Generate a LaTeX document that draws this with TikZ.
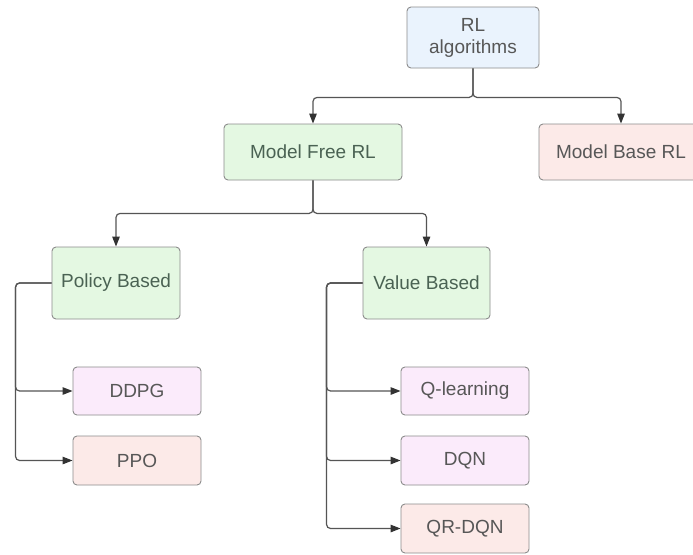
\documentclass[tikz,border=0pt]{standalone}
\usepackage{fontspec}
\setmainfont{Liberation Sans}
\usetikzlibrary{arrows.meta}
\definecolor{edgegray}{HTML}{555555}
\definecolor{tipgray}{HTML}{333333}
\definecolor{boxline}{HTML}{8C8C8C}
\definecolor{fillblue}{HTML}{EAF3FD}
\definecolor{fillgreen}{HTML}{E4F8E2}
\definecolor{fillpink}{HTML}{FCEAE8}
\definecolor{fillpurple}{HTML}{FBEBFB}
\definecolor{txtgreen}{HTML}{4A6253}
\definecolor{txtgray}{HTML}{575757}
\tikzset{
  box/.style={draw=boxline, line width=0.9pt, rounded corners=4pt, align=center,
    inner sep=0pt, font=\fontsize{19}{22}\selectfont, text=txtgray},
  greenbox/.style={box, fill=fillgreen, text=txtgreen},
  bluebox/.style={box, fill=fillblue},
  pinkbox/.style={box, fill=fillpink},
  purplebox/.style={box, fill=fillpurple},
  conn/.style={draw=edgegray, line width=1.2pt, rounded corners=4pt,
    -{Triangle[length=10pt,width=7.5pt,color=tipgray]}},
}
\begin{document}
\begin{tikzpicture}[x=1pt,y=-1pt]
\useasboundingbox (0,0) rectangle (693,554);
\clip (0,0) rectangle (693,554);
\fill[white] (0,0) rectangle (693,554);

% top level
\node[bluebox, minimum width=132pt, minimum height=61pt] (rl) at (473,37.5) {RL\\algorithms};
\node[greenbox, minimum width=178pt, minimum height=56pt] (mf) at (313,152) {Model Free RL};
\node[pinkbox, minimum width=178pt, minimum height=56pt] (mb) at (628,152) {\hspace*{-14pt}Model Base RL};

% second level
\node[greenbox, minimum width=128pt, minimum height=72pt] (pb) at (116,283) {Policy Based};
\node[greenbox, minimum width=127pt, minimum height=72pt] (vb) at (426.5,283) {Value Based};

% leaves
\node[purplebox, minimum width=128pt, minimum height=48pt] (ddpg) at (137,391) {DDPG};
\node[pinkbox, minimum width=128pt, minimum height=49pt] (ppo) at (137,460.5) {PPO};
\node[purplebox, minimum width=128pt, minimum height=48pt] (ql) at (465,391) {Q-learning};
\node[purplebox, minimum width=128pt, minimum height=49pt] (dqn) at (465,460.5) {DQN};
\node[pinkbox, minimum width=128pt, minimum height=49pt] (qr) at (465,528.5) {QR-DQN};

% RL algorithms -> model free / model based
\draw[conn] (rl.south) -- ++(0,29) -| (mf.north);
\draw[conn] (rl.south) -- ++(0,29) -| ([xshift=-7pt]mb.north);

% model free -> policy / value
\draw[conn] (mf.south) -- ++(0,33) -| (pb.north);
\draw[conn] (mf.south) -- ++(0,33) -| (vb.north);

% policy based -> leaves
\draw[conn] (pb.west) -- ++(-36,0) |- (ddpg.west);
\draw[conn] (pb.west) -- ++(-36,0) |- (ppo.west);

% value based -> leaves
\draw[conn] (vb.west) -- ++(-36,0) |- (ql.west);
\draw[conn] (vb.west) -- ++(-36,0) |- (dqn.west);
\draw[conn] (vb.west) -- ++(-36,0) |- (qr.west);
\end{tikzpicture}
\end{document}
